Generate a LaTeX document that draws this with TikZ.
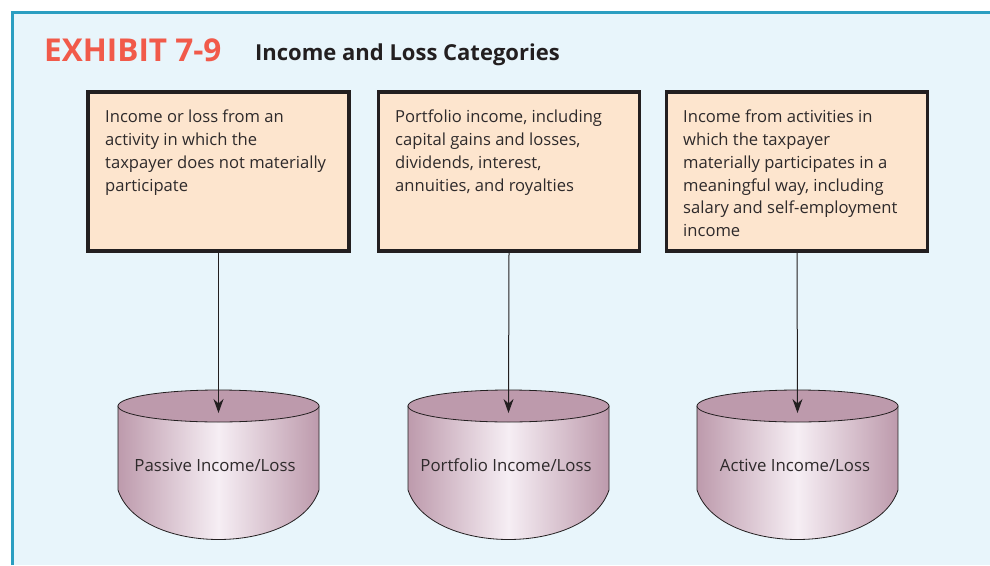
\documentclass[tikz,border=0pt]{standalone}
\usepackage{fontspec}
\setmainfont{Open Sans}
\usetikzlibrary{arrows.meta,positioning}

\definecolor{panelbg}{HTML}{E8F5FB}
\definecolor{paneledge}{HTML}{2B9EC1}
\definecolor{exred}{HTML}{F15A4A}
\definecolor{peach}{HTML}{FDE5CE}
\definecolor{boxline}{HTML}{231F20}
\definecolor{mauve}{HTML}{BD9AAC}
\definecolor{drumlight}{HTML}{F6EEF4}
\definecolor{inktext}{HTML}{2E2A2B}

\begin{document}
\begin{tikzpicture}[
    x=1pt, y=-1pt,
    >=Stealth,
    cat box/.style={draw=boxline, line width=3.5pt, fill=peach, inner sep=0pt,
        minimum width=261pt, minimum height=159pt},
    cat text/.style={anchor=north west, inner sep=0pt, align=left, text=inktext,
        font=\fontsize{16.6}{22.7}\selectfont},
    drum side/.style={left color=mauve, right color=mauve, middle color=drumlight,
        draw=boxline, line width=0.8pt},
    drum top/.style={fill=mauve, draw=boxline, line width=0.8pt},
    drum label/.style={inner sep=0pt, text=inktext, font=\fontsize{16.8}{20}\selectfont},
    link arrow/.style={-{Stealth[length=14pt,width=10pt]}, line width=1pt, draw=boxline},
]

\useasboundingbox (0,0) rectangle (990,565);

% Panel
\fill[panelbg] (12,12) rectangle (990,565);
\draw[paneledge, line width=3pt] (12,565) -- (12,12) -- (990,12);

% Heading
\node[anchor=base west, inner sep=0pt, text=exred,
      font=\fontsize{31.5}{32}\selectfont\bfseries] (exhibit) at (44,61) {EXHIBIT 7-9};
\node[anchor=base west, inner sep=0pt, text=boxline,
      font=\fontsize{22}{22}\selectfont\bfseries] (heading) at (255,60) {Income and Loss Categories};

% Category boxes
\node[cat box] (box1) at (218.5,171.5) {};
\node[cat box] (box2) at (509,171.5) {};
\node[cat box] (box3) at (797,171.5) {};

\node[cat text] (txt1) at (105,110) {Income or loss from an\\activity in which the\\taxpayer does not materially\\participate};
\node[cat text] (txt2) at (395,110) {Portfolio income, including\\capital gains and losses,\\dividends, interest,\\annuities, and royalties};
\node[cat text] (txt3) at (683,110) {Income from activities in\\which the taxpayer\\materially participates in a\\meaningful way, including\\salary and self-employment\\income};

% Drums
\path[drum side] (118,406) -- (118,490) .. controls (140,556) and (297,556) .. (319,490) -- (319,406) -- cycle;
\path[drum top] (218.5,406) ellipse [x radius=100.5, y radius=16];
\coordinate (drop1) at (218.5,413);
\node[drum label] (drum1) at (215,465) {Passive Income/Loss};

\path[drum side] (408,406) -- (408,490) .. controls (430,556) and (587,556) .. (609,490) -- (609,406) -- cycle;
\path[drum top] (508.5,406) ellipse [x radius=100.5, y radius=16];
\coordinate (drop2) at (508.5,413);
\node[drum label] (drum2) at (506,465) {Portfolio Income/Loss};

\path[drum side] (697,406) -- (697,490) .. controls (719,556) and (876,556) .. (898,490) -- (898,406) -- cycle;
\path[drum top] (797.5,406) ellipse [x radius=100.5, y radius=16];
\coordinate (drop3) at (797.5,413);
\node[drum label] (drum3) at (795,465) {Active Income/Loss};

% Links
\draw[link arrow] (box1.south) -- (drop1);
\draw[link arrow] (box2.south) -- (drop2);
\draw[link arrow] (box3.south) -- (drop3);

\end{tikzpicture}
\end{document}
